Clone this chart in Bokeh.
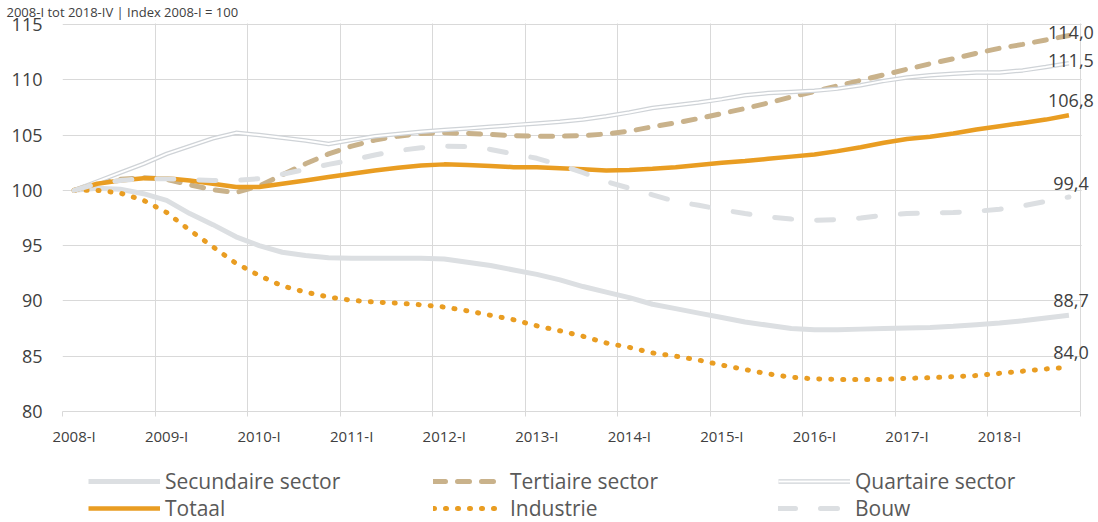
from bokeh.plotting import figure
from bokeh.layouts import column
from bokeh.models import (FixedTicker, Legend, LegendItem, LabelSet, ColumnDataSource, Range1d,
                          BoxAnnotation)
from bokeh.core.properties import value
from bokeh.embed import file_html
from bokeh.resources import INLINE

# ---------------- data ----------------
tick_labels = ["2008-I", "2009-I", "2010-I", "2011-I", "2012-I", "2013-I",
               "2014-I", "2015-I", "2016-I", "2017-I", "2018-I"]
y_ticks = [80, 85, 90, 95, 100, 105, 110, 115]

secundaire = [100.0, 100.2, 100.1, 99.7, 99.1, 97.9, 96.9, 95.8, 95.0, 94.4,
              94.1, 93.9, 93.85, 93.85, 93.85, 93.85, 93.8, 93.5, 93.2, 92.8,
              92.4, 91.9, 91.3, 90.8, 90.3, 89.7, 89.3, 88.9, 88.5, 88.1,
              87.8, 87.5, 87.4, 87.4, 87.45, 87.5, 87.55, 87.6, 87.7, 87.85,
              88.0, 88.2, 88.45, 88.7]
tertiaire = [100.0, 100.7, 101.0, 101.15, 101.0, 100.5, 100.05, 99.8, 100.4, 101.4,
             102.4, 103.3, 104.0, 104.55, 104.9, 105.15, 105.2, 105.15, 105.05, 104.95,
             104.9, 104.9, 104.95, 105.1, 105.35, 105.75, 106.1, 106.5, 106.95, 107.4,
             107.9, 108.45, 108.95, 109.45, 109.95, 110.45, 110.95, 111.45, 111.9, 112.4,
             112.85, 113.2, 113.6, 114.0]
quartaire = [100.0, 100.8, 101.6, 102.4, 103.3, 104.0, 104.7, 105.2, 105.0, 104.75,
             104.5, 104.2, 104.55, 104.9, 105.1, 105.3, 105.45, 105.6, 105.75, 105.9,
             106.05, 106.2, 106.4, 106.7, 107.05, 107.45, 107.7, 107.95, 108.25, 108.6,
             108.8, 108.9, 109.0, 109.2, 109.5, 109.9, 110.2, 110.4, 110.55, 110.65,
             110.65, 110.85, 111.15, 111.5]
totaal = [100.0, 100.6, 100.9, 101.1, 101.1, 100.9, 100.6, 100.3, 100.3, 100.6,
          100.9, 101.2, 101.5, 101.8, 102.05, 102.25, 102.35, 102.3, 102.2, 102.1,
          102.1, 102.0, 101.9, 101.8, 101.85, 101.95, 102.1, 102.3, 102.5, 102.65,
          102.85, 103.05, 103.25, 103.55, 103.9, 104.3, 104.65, 104.85, 105.15, 105.5,
          105.8, 106.1, 106.4, 106.8]
industrie = [100.0, 100.0, 99.75, 99.1, 98.0, 96.4, 94.9, 93.4, 92.3, 91.35,
             90.8, 90.35, 90.05, 89.9, 89.8, 89.65, 89.45, 89.1, 88.7, 88.3,
             87.75, 87.3, 86.8, 86.2, 85.8, 85.3, 85.0, 84.65, 84.2, 83.8,
             83.4, 83.1, 82.95, 82.9, 82.9, 82.9, 83.0, 83.05, 83.15, 83.25,
             83.45, 83.65, 83.85, 84.0]
bouw = [100.0, 100.6, 100.9, 101.05, 101.05, 100.95, 100.9, 100.9, 101.05, 101.45,
        101.9, 102.35, 102.75, 103.2, 103.6, 103.85, 104.0, 103.95, 103.7, 103.3,
        102.9, 102.3, 101.6, 100.8, 100.2, 99.6, 99.0, 98.65, 98.25, 97.9,
        97.6, 97.4, 97.3, 97.35, 97.5, 97.75, 97.9, 97.95, 98.0, 98.1,
        98.3, 98.6, 99.0, 99.4]

series_names = ["Secundaire sector", "Tertiaire sector", "Quartaire sector",
                "Totaal", "Industrie", "Bouw"]
subtitle = "2008-I tot 2018-IV  |  Index 2008-I = 100"

n = len(totaal)
x = list(range(n))
y_min, y_max = y_ticks[0], y_ticks[-1]

# ---------------- styles ----------------
FONT = "Open Sans"
GRID = "#d9d9d9"
GREY = "#dcdfe2"
QGREY = "#cfd3d7"
TAN = "#c9b28b"
ORANGE = "#e99d22"
TEXT = "#404040"

STYLES = [
    dict(line_color=GREY, line_width=5, line_join="round"),
    dict(line_color=TAN, line_width=5, line_dash="12 12", line_cap="round", line_join="round"),
    dict(line_color=QGREY, line_width=4.5, line_join="round"),
    dict(line_color=ORANGE, line_width=4.5, line_join="round"),
    dict(line_color=ORANGE, line_width=5, line_dash="1 11", line_cap="round"),
    dict(line_color=GREY, line_width=5, line_dash="17 25", line_cap="round", line_join="round"),
]
INNER = dict(line_color="white", line_width=2, line_join="round")

# geometry (pixels)
W = 1098
PLOT_H, LEG_H = 455, 67
TOP, LEFT, BOTTOM = 20, 62, 44
AXIS_W_PX, AXIS_H_PX = 1018, 387          # visible chart area (grid box)
frame_w = W - LEFT
frame_h = PLOT_H - TOP - BOTTOM
x_end = -0.5 + n * frame_w / AXIS_W_PX
y_end = y_min + (y_max - y_min) * frame_h / AXIS_H_PX

# ---------------- main chart ----------------
p = figure(width=W, height=PLOT_H, x_range=Range1d(-0.5, x_end), y_range=Range1d(y_min, y_end),
           output_backend="svg", toolbar_location=None, title=subtitle,
           min_border_left=LEFT, min_border_right=0, min_border_top=TOP, min_border_bottom=BOTTOM)
p.outline_line_color = None
p.title.text_font = FONT
p.title.text_font_size = "13px"
p.title.text_font_style = "normal"
p.title.text_color = TEXT
p.title.align = "left"
p.title.standoff = 0
p.title.offset = -56

p.yaxis.ticker = FixedTicker(ticks=y_ticks)
p.yaxis.axis_line_color = None
p.yaxis.major_tick_line_color = None
p.yaxis.minor_tick_line_color = None
p.yaxis.major_tick_out = 0
p.yaxis.major_label_standoff = 20
p.yaxis.major_label_text_font = FONT
p.yaxis.major_label_text_font_size = "18px"
p.yaxis.major_label_text_color = TEXT

label_pos = [4 * i for i in range(len(tick_labels))]
bounds = [4 * i - 0.5 for i in range(len(tick_labels) + 1)]
p.xaxis.ticker = FixedTicker(ticks=label_pos, minor_ticks=bounds)
p.xaxis.major_label_overrides = {pos: lab for pos, lab in zip(label_pos, tick_labels)}
p.xaxis.bounds = (-0.5, n - 0.5)
p.xaxis.major_tick_line_color = None
p.xaxis.major_tick_out = 0
p.xaxis.major_tick_in = 0
p.xaxis.minor_tick_out = 5
p.xaxis.minor_tick_in = 0
p.xaxis.minor_tick_line_color = GRID
p.xaxis.axis_line_color = GRID
p.xaxis.major_label_standoff = 9
p.xaxis.major_label_text_font = FONT
p.xaxis.major_label_text_font_size = "15px"
p.xaxis.major_label_text_color = TEXT

p.xgrid.ticker = FixedTicker(ticks=bounds)
p.xgrid.grid_line_color = GRID
p.ygrid.grid_line_color = GRID

# white masks so the grid stops at the chart box (top and right margins hold labels)
p.add_layout(BoxAnnotation(bottom=y_max + 0.1, fill_color="white", fill_alpha=1,
                           line_alpha=0, level="underlay"))
p.add_layout(BoxAnnotation(left=n - 0.45, fill_color="white", fill_alpha=1,
                           line_alpha=0, level="underlay"))

src = ColumnDataSource(dict(x=x, sec=secundaire, ter=tertiaire, qua=quartaire,
                            tot=totaal, ind=industrie, bou=bouw))
cols = ["sec", "ter", "qua", "tot", "ind", "bou"]

for i, c in enumerate(cols):
    p.line("x", c, source=src, **STYLES[i])
    if c == "qua":
        p.line("x", c, source=src, **INNER)

series_last = [secundaire[-1], tertiaire[-1], quartaire[-1], totaal[-1], industrie[-1], bouw[-1]]
lab_src = ColumnDataSource(dict(
    x=[n - 1] * len(series_last),
    y=series_last,
    text=[f"{v:.1f}".replace(".", ",") for v in series_last],
    dy=[15, 3, 3, 15, 15, 13],
))
p.add_layout(LabelSet(x="x", y="y", text="text", source=lab_src, y_offset="dy", x_offset=2,
                      text_align="center", text_baseline="middle",
                      text_font=value(FONT), text_font_size=value("18px"),
                      text_color=value(TEXT)))

# ---------------- legend strip ----------------
pl = figure(width=W, height=LEG_H, x_range=Range1d(0, 1), y_range=Range1d(0, 1),
            output_backend="svg", toolbar_location=None,
            x_axis_type=None, y_axis_type=None,
            min_border_left=0, min_border_right=0, min_border_top=0, min_border_bottom=0)
pl.outline_line_color = None
pl.grid.visible = False

# legend samples reuse the series (all data fall outside this strip's ranges)
leg_renderers = []
for i, c in enumerate(cols):
    rs = [pl.line("x", c, source=src, **STYLES[i])]
    if c == "qua":
        rs.append(pl.line("x", c, source=src, **INNER))
    leg_renderers.append(rs)

items = [LegendItem(label=name, renderers=rs) for name, rs in zip(series_names, leg_renderers)]


def make_legend(its, loc):
    lg = Legend(items=its, location=loc, orientation="horizontal")
    lg.glyph_width = 72
    lg.glyph_height = 20
    lg.label_standoff = 5
    lg.label_width = 267
    lg.label_height = 20
    lg.spacing = 1
    lg.padding = 0
    lg.margin = 0
    lg.border_line_color = None
    lg.background_fill_alpha = 0
    lg.label_text_font = FONT
    lg.label_text_font_size = "21px"
    lg.label_text_color = "#595959"
    return lg


pl.add_layout(make_legend(items[:3], (26, 27)), "center")
pl.add_layout(make_legend(items[3:], (26, 0)), "center")

layout = column(p, pl, spacing=0)
open("out.html", "w").write(file_html(layout, INLINE))
